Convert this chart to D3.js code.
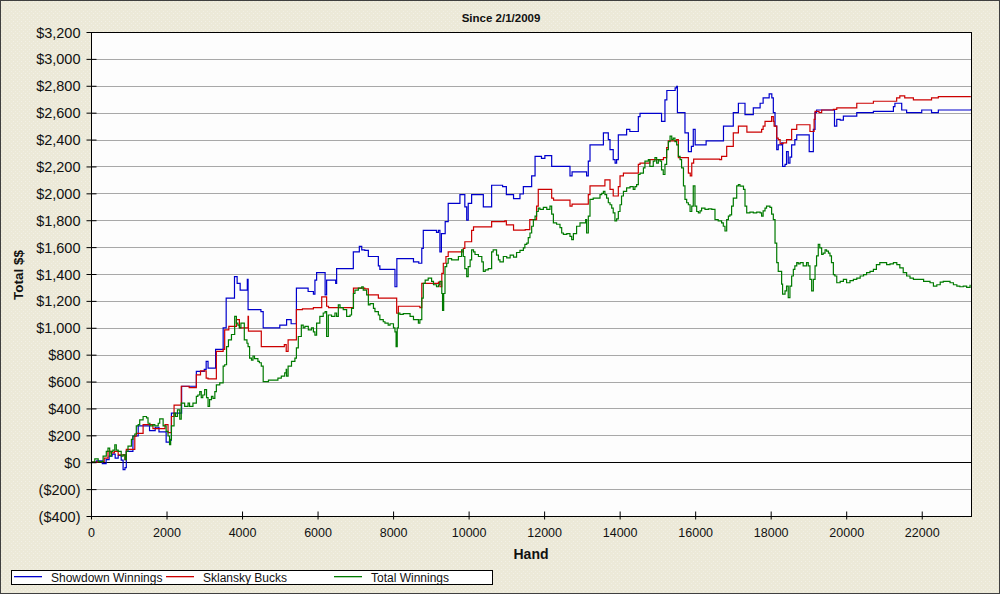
<!DOCTYPE html>
<html>
<head>
<meta charset="utf-8">
<script src="https://cdn.jsdelivr.net/npm/d3@7"></script>
<style>
  html, body { margin: 0; padding: 0; background: #ECE9D8; }
  svg { display: block; }
  text { font-family: "Liberation Sans", Arial, sans-serif; fill: #111; }
</style>
</head>
<body>
<svg id="chart" width="1000" height="594"></svg>
<script>
// ---------------- DATA ----------------
const chartTitle = "Since 2/1/2009";
const xLabel = "Hand";
const yLabel = "Total $$";
const seriesNames = ["Showdown Winnings", "Sklansky Bucks", "Total Winnings"];
const xTicks = [0, 2000, 4000, 6000, 8000, 10000, 12000, 14000, 16000, 18000, 20000, 22000];
const yTicks = [-400, -200, 0, 200, 400, 600, 800, 1000, 1200, 1400, 1600, 1800, 2000, 2200, 2400, 2600, 2800, 3000, 3200];

// [hand, $] pairs
const showdownWinnings = [
  [0,0],[150,10],[300,-10],[400,20],[480,45],[560,60],[640,30],[720,50],[800,15],[850,-55],[900,-40],
  [935,80],[1110,195],[1250,270],[1550,235],[1700,260],[1800,225],[1990,150],[2080,165],[2130,365],
  [2400,565],[2790,675],[3000,690],[3050,750],[3100,700],[3300,840],[3500,1000],[3580,1220],[3800,1380],
  [3870,1330],[3950,1280],[4140,1360],[4160,1135],[4500,1120],[4560,1000],[5000,1020],[5180,1060],
  [5300,1030],[5440,1295],[5750,1270],[5890,1250],[5930,1355],[5975,1410],[6200,1245],[6240,1355],
  [6480,1330],[6505,1440],[6900,1440],[6947,1565],[7106,1605],[7170,1580],[7250,1575],[7345,1530],
  [7610,1460],[7650,1435],[8050,1305],[8100,1515],[8540,1490],[8680,1480],[8760,1590],[8800,1725],
  [9150,1710],[9200,1725],[9240,1565],[9280,1700],[9380,1790],[9460,1925],[9770,1990],[9900,1900],
  [9950,1800],[9990,1925],[10080,1990],[10390,1900],[10610,2060],[10900,2050],[11000,1990],[11190,1960],
  [11360,1995],[11450,2050],[11670,2130],[11760,2275],[11930,2260],[12020,2280],[12200,2200],[12685,2130],
  [12740,2160],[13125,2130],[13170,2240],[13215,2360],[13570,2450],[13700,2400],[13745,2325],[13830,2250],
  [13880,2225],[13920,2250],[13965,2435],[14185,2475],[14270,2460],[14495,2570],[14540,2595],[15110,2535],
  [15200,2695],[15250,2765],[15470,2785],[15510,2795],[15530,2600],[15730,2450],[15820,2310],[15900,2350],
  [15950,2475],[16000,2360],[16290,2390],[16750,2500],[17010,2600],[17145,2670],[17320,2585],[17540,2635],
  [17720,2670],[17800,2710],[17960,2740],[18030,2710],[18070,2600],[18115,2500],[18160,2325],[18200,2360],
  [18290,2375],[18315,2200],[18380,2215],[18420,2310],[18465,2225],[18510,2270],[18555,2360],[18640,2400],
  [18690,2435],[19020,2310],[19130,2475],[19175,2600],[19215,2620],[19660,2620],[19690,2500],[19750,2550],
  [19840,2545],[19925,2575],[20280,2600],[20720,2610],[21250,2645],[21290,2670],[21470,2620],[21600,2600],
  [22000,2620],[22260,2600],[22440,2620],[23300,2625]
];

const sklanskyBucks = [
  [0,0],[180,5],[350,30],[450,80],[530,70],[620,80],[720,55],[900,20],[935,95],[1160,193],[1200,215],
  [1380,280],[1640,250],[1960,280],[2040,220],[2130,340],[2200,425],[2390,565],[2600,555],[2790,650],
  [2900,680],[3050,625],[3100,620],[3320,825],[3500,840],[3540,985],[3650,1010],[3850,1060],[3930,1000],
  [4160,1085],[4170,975],[4510,860],[5120,875],[5170,825],[5220,910],[5440,1135],[5600,1140],[5890,1150],
  [6110,1230],[6240,1160],[6290,1150],[6950,1295],[7250,1290],[7345,1245],[7610,1220],[8095,1108],
  [8140,1160],[8710,1150],[8760,1330],[9200,1340],[9240,1305],[9290,1405],[9330,1480],[9400,1530],
  [9460,1565],[9860,1590],[9900,1640],[10080,1725],[10130,1750],[10610,1790],[10960,1795],[11000,1765],
  [11190,1727],[11500,1730],[11620,1805],[11800,1905],[11845,2030],[12200,1965],[12250,1950],[12685,1905],
  [12740,1920],[13170,1990],[13215,2055],[13610,2100],[13745,2030],[13830,1980],[13965,2050],[14010,2130],
  [14100,2150],[14495,2215],[14540,2225],[14800,2250],[15160,2265],[15245,2340],[15290,2390],[15510,2400],
  [15555,2265],[15820,2150],[15870,2130],[15910,2225],[15960,2255],[16650,2250],[16700,2275],[16835,2350],
  [17010,2450],[17145,2500],[17370,2455],[17760,2475],[17800,2500],[17850,2535],[18025,2570],[18070,2535],
  [18090,2500],[18160,2410],[18200,2400],[18250,2370],[18330,2375],[18420,2400],[18555,2475],[18690,2510],
  [19040,2460],[19150,2550],[19175,2610],[19280,2600],[19350,2620],[19660,2625],[19750,2635],[20280,2670],
  [20720,2685],[21336,2710],[21420,2725],[21550,2710],[21780,2695],[22260,2710],[22440,2720],[23300,2720]
];

const totalWinnings = [
  [0,0],[100,25],[190,5],[320,45],[405,80],[450,105],[495,45],[540,80],[580,90],[630,130],[670,90],
  [720,80],[800,45],[850,55],[900,20],[935,80],[980,120],[1070,170],[1110,195],[1160,210],[1200,270],
  [1250,280],[1290,315],[1380,340],[1470,330],[1510,290],[1560,270],[1640,280],[1690,270],[1780,290],
  [1820,322],[1910,270],[1990,230],[2040,195],[2080,130],[2110,170],[2130,270],[2200,365],[2240,340],
  [2290,390],[2350,320],[2390,440],[2480,415],[2570,440],[2610,415],[2700,440],[2790,490],[2830,500],
  [2880,525],[2920,480],[2960,500],[3010,540],[3060,480],[3100,415],[3140,465],[3190,490],[3230,475],
  [3280,525],[3320,575],[3410,590],[3500,715],[3540,725],[3590,860],[3640,910],[3720,950],[3805,1085],
  [3850,1035],[3890,1020],[3930,1000],[3970,1035],[4060,910],[4130,885],[4160,860],[4200,775],[4250,760],
  [4290,790],[4330,770],[4420,750],[4460,740],[4510,715],[4560,600],[4700,610],[4900,610],[4950,625],
  [5040,640],[5130,665],[5170,690],[5180,640],[5220,715],[5310,750],[5400,775],[5440,850],[5490,935],
  [5570,1020],[5620,1000],[5665,1010],[5755,985],[5840,1000],[5890,970],[5930,945],[5975,1035],[6060,1085],
  [6150,1110],[6200,1120],[6240,935],[6285,1095],[6370,1085],[6460,1110],[6505,1085],[6550,1170],[6595,1150],
  [6680,1135],[6770,1085],[6860,1095],[6900,1145],[6950,1255],[6990,1280],[7080,1295],[7170,1305],[7210,1280],
  [7300,1245],[7345,1170],[7390,1180],[7480,1145],[7520,1120],[7610,1095],[7650,1060],[7740,1045],[7785,1035],
  [7870,1020],[7920,1030],[8010,1000],[8050,970],[8080,860],[8110,1000],[8140,1110],[8180,1100],[8270,1105],
  [8450,1085],[8540,1060],[8630,1060],[8670,1035],[8710,1060],[8760,1220],[8800,1330],[8850,1355],[8930,1370],
  [9020,1345],[9070,1320],[9150,1305],[9200,1320],[9240,1345],[9290,1255],[9310,1130],[9340,1255],[9375,1455],
  [9420,1480],[9460,1515],[9550,1505],[9640,1505],[9730,1530],[9815,1580],[9860,1530],[9900,1440],[9950,1380],
  [9990,1455],[10040,1505],[10080,1580],[10130,1565],[10170,1545],[10260,1530],[10350,1490],[10390,1420],
  [10440,1430],[10520,1440],[10610,1565],[10650,1580],[10740,1540],[10790,1505],[10830,1490],[10920,1530],
  [11010,1520],[11100,1540],[11190,1525],[11270,1560],[11360,1575],[11450,1595],[11490,1620],[11540,1630],
  [11580,1670],[11625,1705],[11670,1755],[11715,1805],[11760,1830],[11800,1865],[11845,1890],[11890,1880],
  [11980,1895],[12070,1880],[12155,1905],[12200,1845],[12245,1780],[12330,1770],[12420,1745],[12465,1705],
  [12510,1695],[12600,1700],[12685,1680],[12730,1655],[12775,1700],[12860,1755],[12950,1780],[13040,1780],
  [13100,1805],[13125,1705],[13170,1830],[13215,1955],[13300,1965],[13390,1965],[13480,1990],[13525,2000],
  [13570,2015],[13610,1990],[13655,1965],[13700,1930],[13745,1915],[13790,1890],[13830,1855],[13875,1795],
  [13920,1810],[13965,1865],[14010,1915],[14050,1980],[14100,2015],[14185,2040],[14275,2050],[14360,2030],
  [14405,2050],[14450,2065],[14495,2140],[14540,2150],[14630,2190],[14670,2240],[14760,2250],[14800,2200],
  [14890,2240],[14935,2265],[14980,2225],[15025,2250],[15070,2240],[15110,2175],[15155,2140],[15200,2215],
  [15245,2325],[15290,2385],[15335,2425],[15380,2400],[15420,2410],[15465,2385],[15510,2360],[15555,2275],
  [15600,2250],[15640,2190],[15690,2055],[15730,1955],[15775,1930],[15820,1915],[15865,1865],[15910,1905],
  [15950,2055],[15995,1905],[16040,1865],[16085,1855],[16130,1870],[16170,1890],[16260,1880],[16350,1885],
  [16440,1880],[16525,1805],[16610,1795],[16700,1780],[16745,1755],[16790,1720],[16835,1805],[16880,1830],
  [16920,1840],[16965,1905],[17010,1965],[17100,2055],[17145,2065],[17186,2053],[17280,2030],[17320,1905],
  [17365,1855],[17450,1860],[17540,1855],[17630,1860],[17720,1855],[17760,1830],[17800,1870],[17850,1890],
  [17890,1905],[17980,1895],[18025,1845],[18070,1805],[18115,1630],[18160,1485],[18200,1420],[18245,1420],
  [18290,1325],[18315,1250],[18380,1275],[18420,1310],[18465,1225],[18510,1310],[18555,1385],[18600,1435],
  [18640,1460],[18690,1485],[18730,1475],[18780,1485],[18860,1460],[18950,1485],[18995,1460],[19040,1360],
  [19085,1275],[19130,1360],[19175,1460],[19215,1535],[19260,1620],[19300,1595],[19350,1545],[19390,1555],
  [19440,1580],[19480,1570],[19530,1555],[19570,1535],[19610,1485],[19660,1395],[19700,1385],[19750,1335],
  [19840,1345],[19925,1360],[20010,1335],[20100,1350],[20190,1360],[20280,1370],[20370,1385],[20460,1395],
  [20540,1410],[20630,1420],[20720,1435],[20800,1470],[20890,1485],[20980,1485],[21070,1470],[21160,1475],
  [21250,1485],[21340,1470],[21420,1445],[21510,1410],[21600,1385],[21690,1370],[21780,1360],[21870,1360],
  [21960,1360],[22050,1345],[22130,1345],[22220,1335],[22310,1310],[22400,1320],[22490,1340],[22570,1345],
  [22660,1345],[22750,1335],[22840,1320],[22930,1310],[23010,1305],[23100,1310],[23190,1300],[23280,1320]
];

const seriesData = [showdownWinnings, sklanskyBucks, totalWinnings];
const seriesColors = ["#0000cc", "#cc0000", "#007a00"];

// ---------------- DRAW ----------------
const W = 1000, H = 594;
const plot = { left: 91, right: 971, top: 32, bottom: 516 };
const svg = d3.select("#chart");

// textured beige background
const defs = svg.append("defs");
const pat = defs.append("pattern").attr("id", "bgpat").attr("width", 4).attr("height", 4)
  .attr("patternUnits", "userSpaceOnUse");
pat.append("rect").attr("width", 4).attr("height", 4).attr("fill", "#ECE9D8");
pat.append("rect").attr("x", 1).attr("y", 1).attr("width", 1).attr("height", 1).attr("fill", "#F3F1E7");
pat.append("rect").attr("x", 3).attr("y", 3).attr("width", 1).attr("height", 1).attr("fill", "#F1EFE4");

svg.append("rect").attr("x", 0).attr("y", 0).attr("width", W).attr("height", H).attr("fill", "url(#bgpat)");
svg.append("rect").attr("x", 0.5).attr("y", 0.5).attr("width", W - 1).attr("height", H - 1)
  .attr("fill", "none").attr("stroke", "#404040").attr("stroke-width", 1);

const x = d3.scaleLinear().domain([0, 23305]).range([plot.left, plot.right]);
const y = d3.scaleLinear().domain([-400, 3200]).range([plot.bottom, plot.top]);

// plot background
svg.append("rect").attr("x", plot.left).attr("y", plot.top)
  .attr("width", plot.right - plot.left).attr("height", plot.bottom - plot.top)
  .attr("fill", "#fdfdfd");

// gridlines
svg.append("g").selectAll("line").data(yTicks.filter(v => v !== 0 && v !== -400 && v !== 3200)).join("line")
  .attr("x1", plot.left).attr("x2", plot.right)
  .attr("y1", d => Math.round(y(d)) + 0.5).attr("y2", d => Math.round(y(d)) + 0.5)
  .attr("stroke", "#a8a8a8").attr("stroke-width", 1);

// zero line
svg.append("line").attr("x1", plot.left).attr("x2", plot.right)
  .attr("y1", Math.round(y(0)) + 0.5).attr("y2", Math.round(y(0)) + 0.5)
  .attr("stroke", "#000").attr("stroke-width", 1);

// series
const line = d3.line().x(d => x(d[0])).y(d => y(d[1])).curve(d3.curveStepAfter);
seriesData.forEach((s, i) => {
  svg.append("path").datum(s).attr("d", line)
    .attr("fill", "none").attr("stroke", seriesColors[i]).attr("stroke-width", 1.2)
    .attr("stroke-linejoin", "miter");
});

// plot frame
svg.append("rect").attr("x", plot.left + 0.5).attr("y", plot.top + 0.5)
  .attr("width", plot.right - plot.left).attr("height", plot.bottom - plot.top)
  .attr("fill", "none").attr("stroke", "#000").attr("stroke-width", 1);

// y axis
const yAxis = d3.axisLeft(y).tickValues(yTicks).tickSizeInner(5).tickSizeOuter(0)
  .tickFormat(v => v < 0 ? "($" + d3.format(",")(-v) + ")" : "$" + d3.format(",")(v));
const gy = svg.append("g").attr("transform", `translate(${plot.left + 0.5},0)`).call(yAxis);
gy.select(".domain").remove();
gy.selectAll(".tick line").attr("x1", -5).attr("x2", 5).attr("stroke", "#000");
gy.selectAll(".tick text").attr("x", -11).attr("dy", "0.35em")
  .style("font-size", "14.5px").style("font-family", "'Liberation Sans', Arial, sans-serif").attr("fill", "#111");

// x axis
const xAxis = d3.axisBottom(x).tickValues(xTicks).tickSizeOuter(0).tickFormat(d3.format("d"));
const gx = svg.append("g").attr("transform", `translate(0,${plot.bottom + 0.5})`).call(xAxis);
gx.select(".domain").remove();
gx.selectAll(".tick line").attr("y1", -5).attr("y2", 3).attr("stroke", "#000");
gx.selectAll(".tick text").attr("y", 12).attr("dy", "0.71em")
  .style("font-size", "12.5px").style("font-family", "'Liberation Sans', Arial, sans-serif").attr("fill", "#111");

// title & axis labels
svg.append("text").attr("x", 501).attr("y", 22).attr("text-anchor", "middle")
  .style("font-size", "11.5px").style("font-weight", "bold").text(chartTitle);
svg.append("text").attr("x", (plot.left + plot.right) / 2).attr("y", 559).attr("text-anchor", "middle")
  .style("font-size", "14px").style("font-weight", "bold").text(xLabel);
svg.append("text").attr("transform", "translate(23,275) rotate(-90)").attr("text-anchor", "middle")
  .style("font-size", "13.5px").style("font-weight", "bold").text(yLabel);

// legend
const lg = svg.append("g");
lg.append("rect").attr("x", 11.5).attr("y", 570.5).attr("width", 481).attr("height", 14)
  .attr("fill", "#fff").attr("stroke", "#000").attr("stroke-width", 1);
const legendPos = [14, 166, 334];
seriesNames.forEach((n, i) => {
  lg.append("rect").attr("x", legendPos[i]).attr("y", 576)
    .attr("width", 28).attr("height", 1.3).attr("fill", seriesColors[i]);
  lg.append("text").attr("x", legendPos[i] + 37).attr("y", 582).style("font-size", "12px").text(n);
});
</script>
</body>
</html>
